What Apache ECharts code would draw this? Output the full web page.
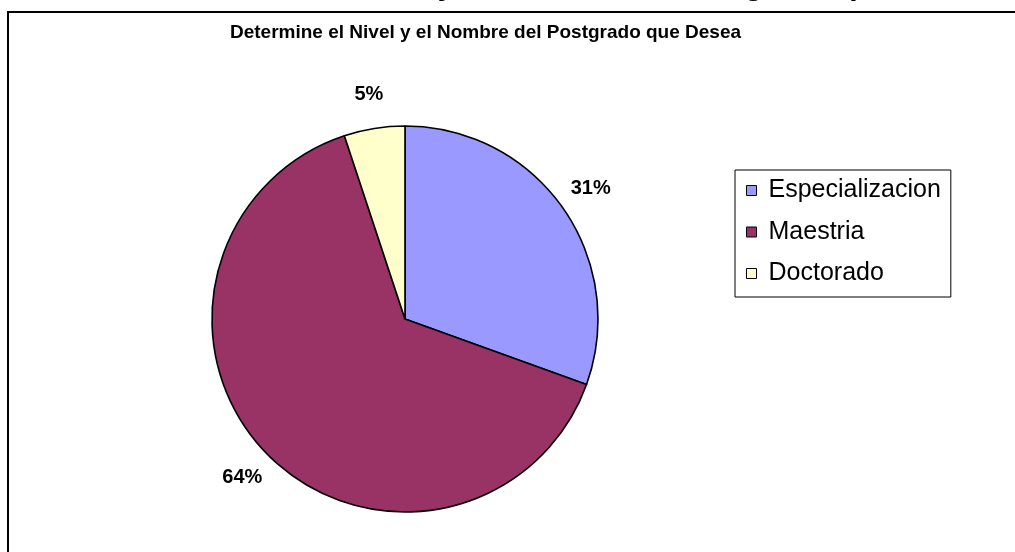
<!DOCTYPE html>
<html>
<head>
<meta charset="utf-8">
<script src="https://cdn.jsdelivr.net/npm/echarts@6/dist/echarts.min.js"></script>
<style>
html,body{margin:0;padding:0;background:#fff;}
#chart{width:1015px;height:552px;}
</style>
</head>
<body>
<div id="chart"></div>
<script>
var titleText = 'Determine el Nivel y el Nombre del Postgrado que Desea';
var categories = ['Especializacion', 'Maestria', 'Doctorado'];
var counts = [18, 38, 3];
var palette = ['#9999FF', '#993366', '#FFFFCC'];

var font = 'Liberation Sans, Arial, sans-serif';

function pieData(){
	var list = [];
	for (var i = 0; i < categories.length; i++) {
		list.push({name: categories[i], value: counts[i]});
	}
	return list;
}

var option = {
	animation: false,
	color: palette,
	title: {
		text: titleText,
		left: 230,
		top: 23,
		padding: 0,
		textStyle: {fontFamily: font, fontSize: 19, fontWeight: 'bold', color: '#000'}
	},
	legend: {
		orient: 'vertical',
		left: 735,
		top: 170,
		padding: [8, 10, 11, 11],
		borderColor: '#000',
		borderWidth: 1,
		icon: 'rect',
		itemWidth: 10,
		itemHeight: 10,
		itemGap: 16.5,
		itemStyle: {borderColor: '#000', borderWidth: 1},
		textStyle: {fontFamily: font, fontSize: 25, color: '#000', lineHeight: 25, padding: [0, 0, 0, 7]},
		data: categories
	},
	graphic: [
		{
			type: 'rect',
			silent: true,
			shape: {x: 8, y: 12, width: 1100, height: 600},
			style: {fill: 'none', stroke: '#000', lineWidth: 2}
		},
		{
			// title of the sheet above, cut off by the top edge
			type: 'text',
			silent: true,
			left: 160,
			top: -30,
			style: {text: titleText, font: 'bold 31px Liberation Sans', fill: '#000'}
		}
	],
	series: [
		{
			type: 'pie',
			center: [405, 319],
			radius: 193,
			startAngle: 90,
			clockwise: true,
			percentPrecision: 0,
			label: {show: false},
			labelLine: {show: false},
			itemStyle: {borderColor: '#000', borderWidth: 1.6},
			emphasis: {disabled: true},
			data: pieData()
		},
		{
			// ring only used to place the percent labels
			type: 'pie',
			center: [405, 319],
			radius: [203, 245],
			startAngle: 90,
			clockwise: true,
			silent: true,
			percentPrecision: 0,
			itemStyle: {color: 'rgba(0,0,0,0)', borderWidth: 0},
			label: {
				show: true,
				position: 'inside',
				formatter: '{d}%',
				fontFamily: font,
				fontSize: 20,
				fontWeight: 'bold',
				color: '#000'
			},
			labelLine: {show: false},
			emphasis: {disabled: true},
			data: pieData()
		}
	]
};

var myChart = echarts.init(document.getElementById('chart'));
myChart.setOption(option);
</script>
</body>
</html>
